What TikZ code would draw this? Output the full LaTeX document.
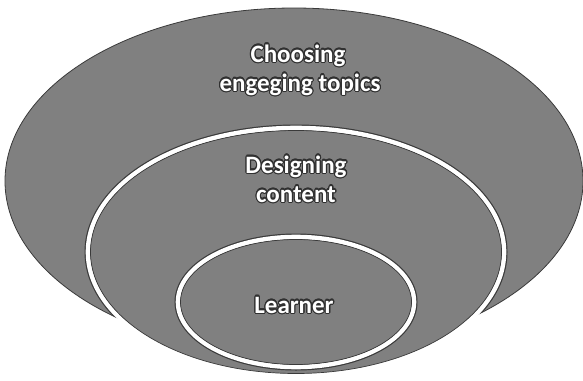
\documentclass[tikz,border=0pt]{standalone}
\usepackage{fontspec}
\setmainfont{Carlito}
\usepackage[copies]{contour}
\contourlength{1.1pt}
\definecolor{fillgray}{HTML}{808080}
\definecolor{edgegray}{HTML}{3A3A3A}
\definecolor{glow}{HTML}{303030}
\tikzset{
  lbl/.style={anchor=base, inner sep=0pt, font=\bfseries\fontsize{25}{30}\selectfont, text=white},
  ringdark/.style={draw=edgegray, line width=7pt},
  ringwhite/.style={draw=white, line width=4.6pt},
  inneredge/.style={draw=edgegray, line width=0.7pt, fill=fillgray},
}
\newcommand{\glowtext}[1]{\contour{glow}{#1}}
\begin{document}
\begin{tikzpicture}[x=1pt,y=-1pt]
\useasboundingbox (0,0) rectangle (583,380);
% outer ellipse
\path[fill=fillgray, draw=edgegray, line width=0.8pt] (294,181) ellipse [x radius=289, y radius=173];
% middle ellipse
\begin{scope}
  \clip (294,181) ellipse [x radius=289, y radius=173];
  \path[ringdark] (296,252) ellipse [x radius=208, y radius=124];
\end{scope}
\path[ringwhite] (296,252) ellipse [x radius=208, y radius=124];
\path[inneredge] (296,252) ellipse [x radius=205.5, y radius=121.5];
% inner ellipse
\path[ringdark] (296,302) ellipse [x radius=118, y radius=65];
\path[ringwhite] (296,302) ellipse [x radius=118, y radius=65];
\path[inneredge] (296,302) ellipse [x radius=115.5, y radius=62.5];
% labels
\node[lbl] (t1) at (298,62) {\glowtext{Choosing}};
\node[lbl] (t2) at (300,91) {\glowtext{engeging topics}};
\node[lbl] (t3) at (296,173) {\glowtext{Designing}};
\node[lbl] (t4) at (296,202) {\glowtext{content}};
\node[lbl] (t5) at (294,313) {\glowtext{Learner}};
\end{tikzpicture}
\end{document}
